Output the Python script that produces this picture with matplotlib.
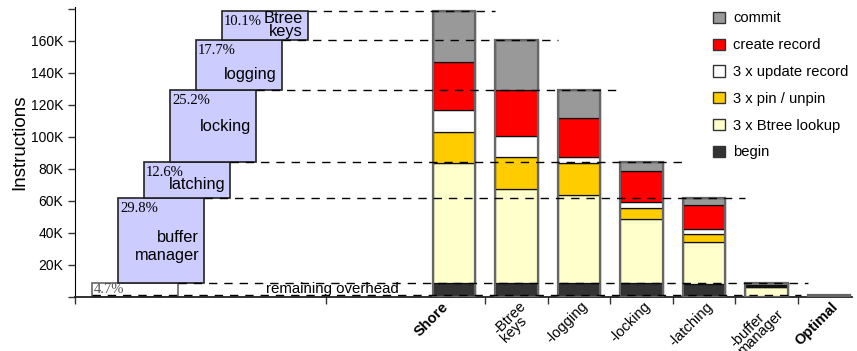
import matplotlib
matplotlib.use("Agg")
import matplotlib.pyplot as plt
from matplotlib.patches import Rectangle
import numpy as np

plt.rcParams['font.family'] = ['Liberation Sans', 'DejaVu Sans']

# stacked bars, values in K instructions
categories = ["Shore", "-Btree\nkeys", "-logging", "-locking", "-latching", "-buffer\nmanager", "Optimal"]
bold_cats = ["Shore", "Optimal"]
begin = [8.2, 8.2, 8.2, 8.2, 7.8, 0.0, 0.0]
btree_lookup = [75.0, 59.0, 55.2, 40.0, 26.4, 5.7, 0.0]
pin_unpin = [19.4, 19.8, 19.8, 6.9, 4.7, 0.3, 0.0]
update_record = [13.8, 13.3, 3.8, 4.1, 3.1, 0.3, 0.0]
create_record = [30.3, 28.6, 24.4, 19.2, 15.2, 0.8, 0.0]
commit = [31.7, 31.4, 17.5, 5.6, 4.2, 1.4, 1.2]

series = [begin, btree_lookup, pin_unpin, update_record, create_record, commit]
series_names = ["begin", "3 x Btree lookup", "3 x pin / unpin", "3 x update record", "create record", "commit"]
series_colors = ["#333333", "#FFFFCC", "#FFCC00", "#FFFFFF", "#FF0000", "#999999"]

# waterfall boxes (left part), bottom to top
box_pcts = ["4.7%", "29.8%", "12.6%", "25.2%", "17.7%", "10.1%"]
box_names = ["", "buffer\nmanager", "latching", "locking", "logging", "Btree\nkeys"]
label_frac = [0.0, 0.43, 0.37, 0.49, 0.32, 0.52]
label_lsp = [1.0, 1.25, 1.0, 1.0, 1.0, 0.85]
# small horizontal nudges of the rotated category labels
cat_dx = [-0.21, 0.03, 0.03, 0.03, 0.03, 0.03, 0.03]

totals = np.sum(series, axis=0)

fig = plt.figure(figsize=(8.57, 3.51), dpi=100)
ax = fig.add_axes([75/857, 54.5/351, 777/857, 289.5/351])

x = np.arange(len(categories))
width = 0.68
bottom = np.zeros(len(categories))
for vals, c in zip(series, series_colors):
    ax.bar(x, vals, width, bottom=bottom, color=c, edgecolor="#111111", linewidth=0.9, zorder=3)
    bottom += vals
# grey outer outline around each bar
ax.bar(x, totals, width, bottom=0, fill=False, edgecolor="#666666", linewidth=1.6, zorder=3.2)

# waterfall boxes
box_left0 = -5.79
box_step = 0.416
box_w = 1.376
levels = list(totals[5::-1])  # buffer, latching, locking, logging, btree, shore
for j in range(6):
    left = box_left0 + j * box_step
    top = levels[j]
    low = 0 if j == 0 else levels[j - 1]
    if j == 0:
        ax.add_patch(Rectangle((left, low), box_w, top - low, facecolor="white",
                               edgecolor="#666666", linewidth=1.2, zorder=2))
        ax.text(left + 0.02, 0.3, box_pcts[j], family="Liberation Serif", fontsize=10.5,
                color="#555555", ha="left", va="bottom", zorder=5)
    else:
        ax.add_patch(Rectangle((left, low), box_w, top - low, facecolor="#CCCCFF",
                               edgecolor="#222222", linewidth=1.2, zorder=2))
        ax.text(left + 0.03, top - 2.3, box_pcts[j], family="Liberation Serif", fontsize=10.5,
                ha="left", va="top", zorder=5)
        ax.text(left + box_w - 0.08, low + label_frac[j] * (top - low), box_names[j],
                fontsize=11.8, ha="right", va="center", multialignment="right",
                linespacing=label_lsp[j], zorder=5)
    # dashed guide from box to next bar
    ax.plot([left + box_w, 6 - j - width / 2], [top, top], color="black", lw=1,
            dashes=(6, 5), zorder=4)

# lowest dashed line (optimal level)
ax.plot([box_left0, 5.55], [totals[6], totals[6]], color="black", lw=1, dashes=(6, 5), zorder=4)
ax.text(-1.94, 5.0, "remaining overhead", fontsize=10.8, ha="center", va="center", zorder=5)

ax.set_xlim(-6.064, 6.37)
ax.set_ylim(0, 181)
ax.set_yticks(np.arange(0, 181, 20))
ax.set_yticklabels(["" if v in (0, 180) else f"{v}K" for v in range(0, 181, 20)], fontsize=10)
ax.set_xticks([-6.064, -2.05] + list(np.arange(len(categories) - 1) + 0.5))
ax.set_xticklabels([])
ax.tick_params(direction="out", length=5, width=1, color="#333333")
ax.spines["top"].set_visible(False)
ax.spines["right"].set_visible(False)
ax.spines["bottom"].set_color("#222222")
ax.spines["bottom"].set_linewidth(1.3)
ax.set_ylabel("Instructions", fontsize=13.5)
ax.yaxis.set_label_coords(-47/777, (296.5 - 142) / 289.5)

for i, cat in enumerate(categories):
    ax.text(i + cat_dx[i], -1.8, cat, rotation=45, ha="right", va="top", rotation_mode="anchor",
            fontsize=10.5, multialignment="left", linespacing=0.75,
            fontweight="bold" if cat in bold_cats else "normal", clip_on=False)

handles = [Rectangle((0, 0), 1, 1, facecolor=c, edgecolor="#333333", linewidth=1)
           for c in series_colors[::-1]]
ax.legend(handles, series_names[::-1], loc="upper left", bbox_to_anchor=(0.8136, 1.005),
          frameon=False, fontsize=10.6, handlelength=0.8, handleheight=0.8,
          handletextpad=0.55, labelspacing=0.87, borderaxespad=0)

fig.savefig("out.png", dpi=100)
